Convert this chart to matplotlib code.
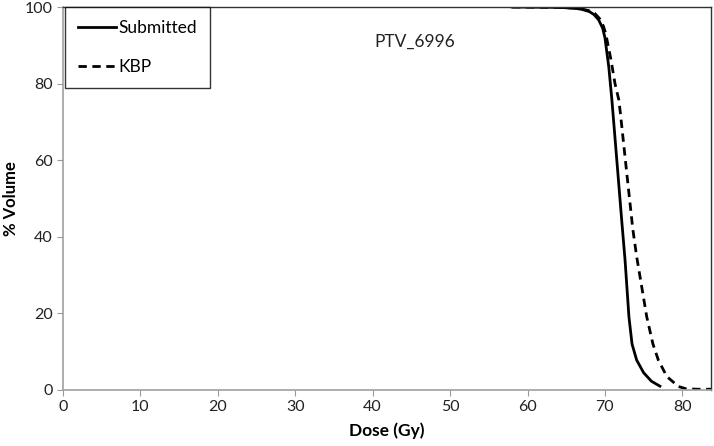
import matplotlib
matplotlib.use("Agg")
import matplotlib.pyplot as plt

plt.rcParams["font.family"] = ["Lato", "DejaVu Sans"]

# DVH (dose in Gy, % volume)
submitted_dose = [58, 64, 66, 67, 68, 68.6, 69.2, 69.7, 70.0, 70.5, 70.9, 71.2, 71.7, 72.2, 72.6, 73.1, 73.5, 74.1, 75.0, 76.0, 77.1]
submitted_vol = [100, 99.9, 99.7, 99.4, 98.8, 98.0, 96.6, 94.5, 92.0, 84.3, 75.7, 68.3, 55.9, 43.5, 33.9, 19.1, 12.0, 7.8, 4.5, 2.3, 1.0]
kbp_dose = [58, 64, 66, 67, 68, 68.7, 69.3, 69.8, 70.1, 70.8, 71.3, 71.8, 72.0, 72.8, 73.6, 74.1, 75.4, 76.2, 76.9, 78.0, 79.5, 80.5, 82.0, 84.0]
kbp_vol = [100, 99.9, 99.7, 99.5, 99.0, 98.3, 97.0, 95.0, 93.1, 86.0, 80.0, 75.7, 72.2, 57.0, 42.0, 34.8, 19.1, 12.0, 7.8, 3.5, 0.9, 0.3, 0.2, 0.2]

x_ticks = list(range(0, 90, 10))
y_ticks = list(range(0, 120, 20))

fig = plt.figure(figsize=(7.14, 4.46), dpi=100)
ax = fig.add_axes([0.0882, 0.1256, 0.9076, 0.8587])

ax.plot(submitted_dose, submitted_vol, color="black", lw=2.0, label="Submitted")
ax.plot(kbp_dose, kbp_vol, color="black", lw=2.0, ls=(0, (3, 2)), label="KBP")

ax.set_xlim(0, 83.7)
ax.set_ylim(0, 100)
ax.set_xticks(x_ticks)
ax.set_yticks(y_ticks)
ax.tick_params(labelsize=11.5, color="#999999", length=4, labelcolor="#222222")

for side in ("left", "bottom"):
    ax.spines[side].set_color("#a0a0a0")
    ax.spines[side].set_linewidth(1.2)
for side in ("top", "right"):
    ax.spines[side].set_color("#333333")
    ax.spines[side].set_linewidth(1.0)

ax.set_xlabel("Dose (Gy)", fontsize=12.5, fontweight="bold", labelpad=6)
ax.set_ylabel("% Volume", fontsize=12, fontweight="bold")
ax.yaxis.set_label_coords(-0.068, 0.5)

ax.text(45.5, 91, "PTV_6996", fontsize=12.5, ha="center", va="center", color="#222222")

leg = ax.legend(loc="upper left", bbox_to_anchor=(0.003, 1.0), borderaxespad=0,
                fontsize=12.5, handlelength=2.2, labelspacing=1.3, borderpad=0.75,
                handletextpad=0.15, fancybox=False, edgecolor="black")
leg.get_frame().set_linewidth(1.0)

fig.savefig("out.png", dpi=100)
